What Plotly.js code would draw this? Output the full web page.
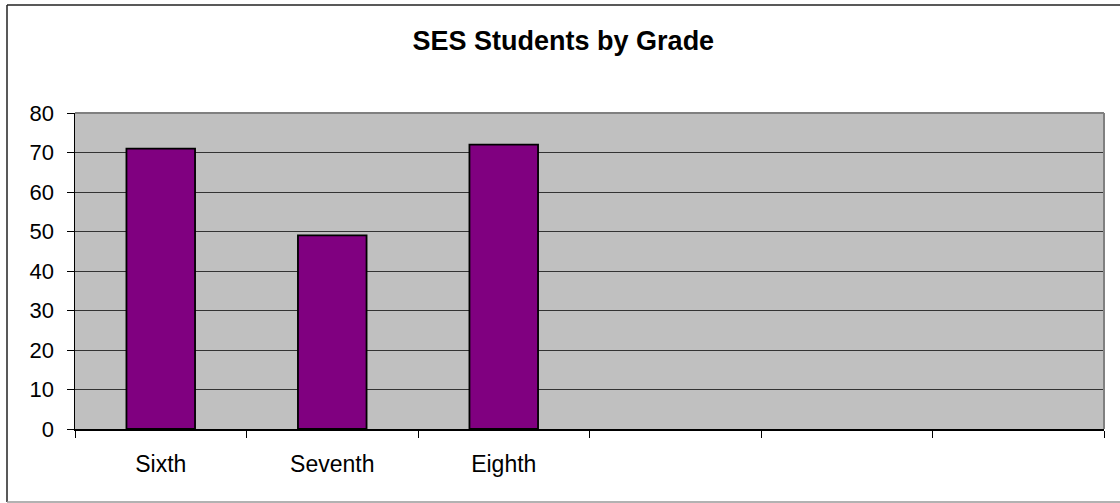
<!DOCTYPE html>
<html>
<head>
<meta charset="utf-8">
<script src="https://cdn.plot.ly/plotly-3.0.1.min.js"></script>
<style>
  html, body { margin: 0; padding: 0; background: #ffffff; }
  #chart { width: 1120px; height: 503px; }
</style>
</head>
<body>
<div id="chart"></div>
<script>
// ---- data ----
const categories = ['Sixth', 'Seventh', 'Eighth'];
const emptySlots = [' ', '  ', '   '];
const values = [71, 49, 72];
const yTicks = [0, 10, 20, 30, 40, 50, 60, 70, 80];
const chartTitle = 'SES Students by Grade';

// ---- layout geometry (pixels) ----
const W = 1120, H = 503;
const L = 75, R = 16, T = 113, B = 74;
const pw = W - L - R, ph = H - T - B;
const px = x => (x - L) / pw;          // pixel -> paper x
const py = y => (H - B - y) / ph;      // pixel -> paper y

const font = 'Liberation Sans, Arial, sans-serif';

const trace = {
  type: 'bar',
  x: categories,
  y: values,
  width: 0.4,
  marker: { color: '#800080', line: { color: '#000000', width: 1.8 } },
  hoverinfo: 'x+y'
};

const layout = {
  width: W, height: H,
  margin: { l: L, r: R, t: T, b: B, pad: 0 },
  paper_bgcolor: '#ffffff',
  plot_bgcolor: '#c0c0c0',
  showlegend: false,
  font: { family: font, color: '#000000' },
  title: {
    text: '<b>' + chartTitle + '</b>',
    font: { family: font, size: 27, color: '#000000' },
    xref: 'container', x: 0.503, xanchor: 'center',
    yref: 'container', y: 1 - 41 / H, yanchor: 'middle'
  },
  xaxis: {
    type: 'category',
    categoryorder: 'array',
    categoryarray: categories.concat(emptySlots),
    range: [-0.5, 5.5],
    tickson: 'boundaries',
    ticks: 'outside', ticklen: 7, tickwidth: 1, tickcolor: '#000000',
    showline: true, linecolor: '#000000', linewidth: 1.5,
    showgrid: false, zeroline: false,
    tickfont: { family: font, size: 23, color: '#000000' },
    ticklabelstandoff: 14,
    fixedrange: true
  },
  yaxis: {
    range: [0, 80],
    tickmode: 'array', tickvals: yTicks,
    ticks: 'outside', ticklen: 7, tickwidth: 1, tickcolor: '#000000',
    showline: true, linecolor: '#000000', linewidth: 1.5,
    showgrid: true, gridcolor: '#333333', gridwidth: 1,
    zeroline: false,
    tickfont: { family: font, size: 22, color: '#000000' },
    ticklabelstandoff: 8,
    fixedrange: true
  },
  shapes: [
    // plot area border (top and right), grey
    { type: 'line', xref: 'paper', yref: 'paper', x0: 0, x1: 1, y0: 1, y1: 1,
      line: { color: '#808080', width: 2 } },
    { type: 'line', xref: 'paper', yref: 'paper', x0: 1, x1: 1, y0: 0, y1: 1,
      line: { color: '#808080', width: 2 } },
    // chart frame
    { type: 'line', xref: 'paper', yref: 'paper', x0: px(7), x1: px(7), y0: py(502), y1: py(5),
      line: { color: '#222222', width: 1.5 } },
    { type: 'line', xref: 'paper', yref: 'paper', x0: px(7), x1: px(1125), y0: py(5), y1: py(5),
      line: { color: '#222222', width: 1.5 } },
    { type: 'line', xref: 'paper', yref: 'paper', x0: px(7), x1: px(1125), y0: py(502), y1: py(502),
      line: { color: '#999999', width: 1.5 } }
  ]
};

Plotly.newPlot('chart', [trace], layout, { displayModeBar: false, staticPlot: true });
</script>
</body>
</html>
